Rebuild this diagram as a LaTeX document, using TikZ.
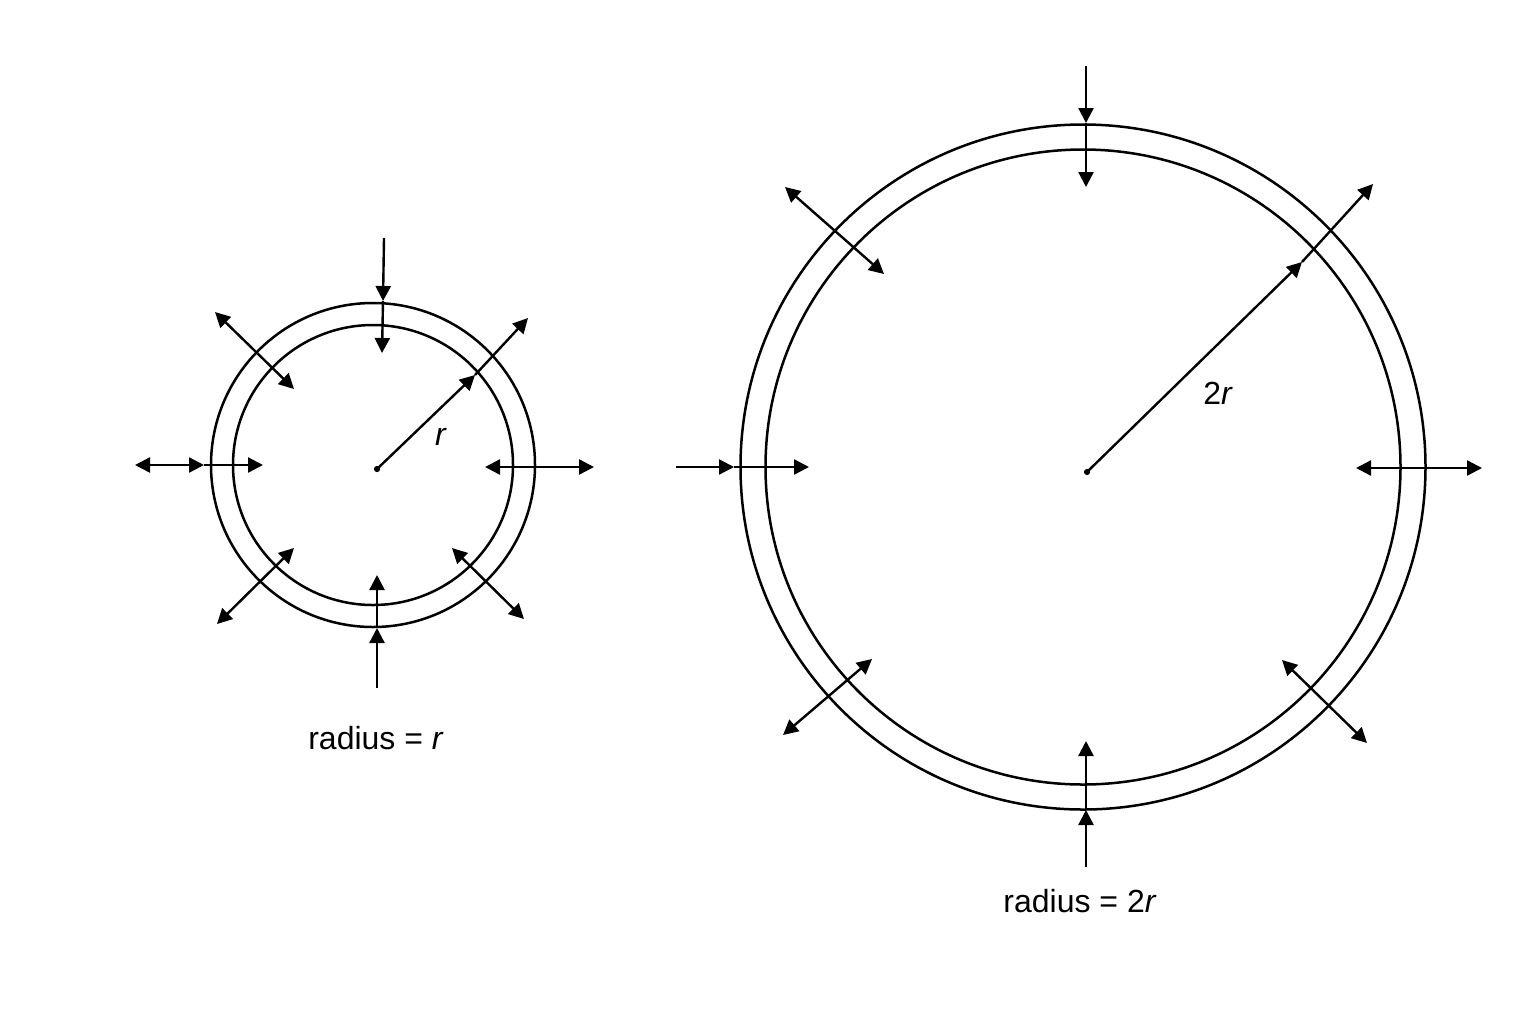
\documentclass[tikz,border=0pt]{standalone}
\usepackage{fontspec}
\setmainfont{Liberation Sans}
\usetikzlibrary{arrows.meta}
\tikzset{
	ring/.style={line width=1.25pt},
	push/.style={line width=1.2pt, -{Triangle[length=7.5pt,width=7.5pt]}},
	pull/.style={line width=1.2pt, {Triangle[length=7.5pt,width=7.5pt]}-{Triangle[length=7.5pt,width=7.5pt]}},
	hub/.style={circle, fill, inner sep=1.1pt},
	lbl/.style={font=\fontsize{16}{19}\selectfont, inner sep=0pt}
}
\begin{document}
\begin{tikzpicture}[x=0.5pt, y=-0.5pt]
	\useasboundingbox (0,0) rectangle (1536,1024);
	% small ring, radius r
	\node[hub] (s) at (377,469) {};
	\coordinate (s-o) at (373,465);
	\draw[ring] (s-o) circle[radius=81pt];
	\draw[ring] (s-o) circle[radius=70pt];
	\coordinate (s-t1) at (384,238); \coordinate (s-t2) at (383,301); \coordinate (s-t3) at (382,353);
	\coordinate (s-l1) at (135,465); \coordinate (s-l2) at (204,465); \coordinate (s-l3) at (263,465);
	\coordinate (s-r1) at (485,467); \coordinate (s-r2) at (594,467);
	\coordinate (s-ul1) at (215,312); \coordinate (s-ul2) at (294,389);
	\coordinate (s-ur1) at (475,375); \coordinate (s-ur2) at (528,318);
	\coordinate (s-ll1) at (217,624); \coordinate (s-ll2) at (294,548);
	\coordinate (s-lr1) at (452,548); \coordinate (s-lr2) at (524,619);
	\coordinate (s-b1) at (377,688); \coordinate (s-b2) at (377,628); \coordinate (s-b3) at (377,575);
	\path[push]
	(s-t1) edge (s-t2)
	(s-t2) edge (s-t3)
	(s-l2) edge (s-l3)
	(s.center) edge (s-ur1)
	(s-ur1) edge (s-ur2)
	(s-b1) edge (s-b2)
	(s-b2) edge (s-b3);
	\path[pull]
	(s-l1) edge (s-l2)
	(s-r1) edge (s-r2)
	(s-ul1) edge (s-ul2)
	(s-ll1) edge (s-ll2)
	(s-lr1) edge (s-lr2);
	\node[lbl] (s-r) at (441,437) {\textit{r}};
	\node[lbl] (s-cap) at (376,738) {radius = \textit{r}};
	% large ring, radius 2r
	\node[hub] (g) at (1087,472) {};
	\coordinate (g-o) at (1083,467);
	\draw[ring] (g-o) circle[radius=171.25pt];
	\draw[ring] (g-o) circle[radius=158.75pt];
	\coordinate (g-t1) at (1086,66); \coordinate (g-t2) at (1086,123); \coordinate (g-t3) at (1086,187);
	\coordinate (g-l1) at (676,467); \coordinate (g-l2) at (734,467); \coordinate (g-l3) at (809,467);
	\coordinate (g-r1) at (1356,468); \coordinate (g-r2) at (1482,468);
	\coordinate (g-ul1) at (785,187); \coordinate (g-ul2) at (884,274);
	\coordinate (g-ur1) at (1302,262); \coordinate (g-ur2) at (1373,184);
	\coordinate (g-ll1) at (783,735); \coordinate (g-ll2) at (872,659);
	\coordinate (g-lr1) at (1282,660); \coordinate (g-lr2) at (1367,743);
	\coordinate (g-b1) at (1086,867); \coordinate (g-b2) at (1086,810); \coordinate (g-b3) at (1086,741);
	\path[push]
	(g-t1) edge (g-t2)
	(g-t2) edge (g-t3)
	(g-l1) edge (g-l2)
	(g-l2) edge (g-l3)
	(g.center) edge (g-ur1)
	(g-ur1) edge (g-ur2)
	(g-b1) edge (g-b2)
	(g-b2) edge (g-b3);
	\path[pull]
	(g-r1) edge (g-r2)
	(g-ul1) edge (g-ul2)
	(g-ll1) edge (g-ll2)
	(g-lr1) edge (g-lr2);
	\node[lbl] (g-r) at (1218,393) {2\textit{r}};
	\node[lbl] (g-cap) at (1080,901) {radius = 2\textit{r}};
\end{tikzpicture}
\end{document}
